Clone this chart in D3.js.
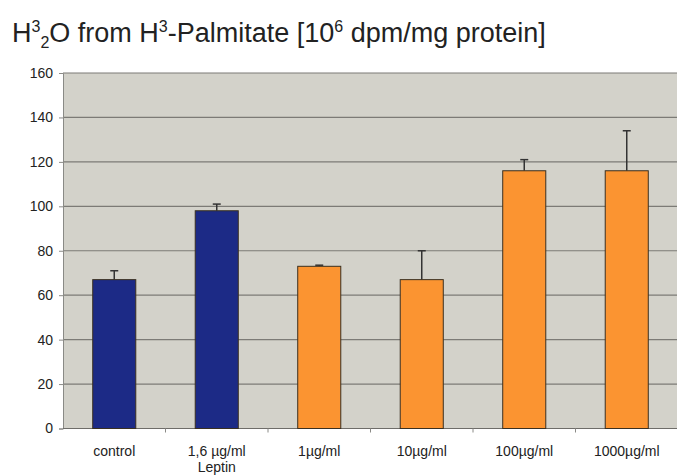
<!DOCTYPE html>
<html>
<head>
<meta charset="utf-8">
<script src="https://cdn.jsdelivr.net/npm/d3@7"></script>
<style>
  body { margin: 0; background: #fff; }
  text { font-family: "Liberation Sans", Arial, sans-serif; fill: #222; }
</style>
</head>
<body>
<div id="chart"></div>
<script>
  var categories = ['control', '1,6 µg/ml|Leptin', '1µg/ml', '10µg/ml', '100µg/ml', '1000µg/ml'];
  var values = [67, 98, 73, 67, 116, 116];
  var errors = [4, 3, 0.5, 13, 5, 18];
  var groups = ['blue', 'blue', 'orange', 'orange', 'orange', 'orange'];
  var yTicks = [0, 20, 40, 60, 80, 100, 120, 140, 160];

  (function () {
    'use strict';

    var width = 677, height = 476;
    var m = {left: 63, right: 678, top: 73, bottom: 428.5};

    var svg = d3.select('#chart').append('svg')
      .attr('width', width)
      .attr('height', height);

    var x = d3.scaleBand()
      .domain(d3.range(categories.length))
      .range([m.left, m.right])
      .paddingInner(0.58)
      .paddingOuter(0.29);

    var y = d3.scaleLinear().domain([0, 160]).range([m.bottom, m.top]);

    var colors = {blue: '#1c2a86', orange: '#fb9431'};

    // plot background
    svg.append('rect')
      .attr('x', m.left).attr('y', m.top)
      .attr('width', m.right - m.left).attr('height', m.bottom - m.top)
      .attr('fill', '#d3d2ca');

    // gridlines
    svg.append('g')
      .selectAll('line')
      .data(yTicks.slice(1))
      .enter()
      .append('line')
      .attr('x1', m.left).attr('x2', m.right)
      .attr('y1', function (d) { return y(d); })
      .attr('y2', function (d) { return y(d); })
      .attr('stroke', '#7c7b76')
      .attr('stroke-width', 1.2);

    // y axis
    var yAxis = svg.append('g')
      .attr('transform', 'translate(' + m.left + ',0)')
      .call(d3.axisLeft(y).tickValues(yTicks).tickSize(4).tickPadding(6));
    yAxis.select('.domain').attr('stroke', '#8a8a86');
    yAxis.selectAll('.tick line').attr('stroke', '#8a8a86');
    yAxis.selectAll('.tick text')
      .style('font-size', '14px')
      .attr('fill', '#1a1a1a');

    // x axis baseline
    svg.append('line')
      .attr('x1', m.left).attr('x2', m.right)
      .attr('y1', m.bottom).attr('y2', m.bottom)
      .attr('stroke', '#6e6d69')
      .attr('stroke-width', 1.2);

    // x tick marks between categories
    var step = x.step();
    svg.append('g')
      .selectAll('line')
      .data(d3.range(categories.length))
      .enter()
      .append('line')
      .attr('x1', function (d) { return x(d) + x.bandwidth() / 2 + step / 2; })
      .attr('x2', function (d) { return x(d) + x.bandwidth() / 2 + step / 2; })
      .attr('y1', m.bottom).attr('y2', m.bottom + 4)
      .attr('stroke', '#8a8a86');

    // error bars
    var err = svg.append('g')
      .selectAll('g')
      .data(values)
      .enter()
      .append('g');

    err.append('line')
      .attr('x1', function (d, i) { return x(i) + x.bandwidth() / 2; })
      .attr('x2', function (d, i) { return x(i) + x.bandwidth() / 2; })
      .attr('y1', function (d) { return y(d); })
      .attr('y2', function (d, i) { return y(d + errors[i]); })
      .attr('stroke', '#333')
      .attr('stroke-width', 1.5);

    err.append('line')
      .attr('x1', function (d, i) { return x(i) + x.bandwidth() / 2 - 4; })
      .attr('x2', function (d, i) { return x(i) + x.bandwidth() / 2 + 4; })
      .attr('y1', function (d, i) { return y(d + errors[i]); })
      .attr('y2', function (d, i) { return y(d + errors[i]); })
      .attr('stroke', '#333')
      .attr('stroke-width', 1.5);

    // bars
    svg.append('g')
      .selectAll('rect')
      .data(values)
      .enter()
      .append('rect')
      .attr('x', function (d, i) { return x(i); })
      .attr('y', function (d) { return y(d); })
      .attr('width', x.bandwidth())
      .attr('height', function (d) { return m.bottom - y(d); })
      .attr('fill', function (d, i) { return colors[groups[i]]; })
      .attr('stroke', '#3a3020')
      .attr('stroke-width', 1);

    // category labels
    var labels = svg.append('g')
      .selectAll('text')
      .data(categories)
      .enter()
      .append('text')
      .attr('text-anchor', 'middle')
      .attr('transform', function (d, i) {
        return 'translate(' + [x(i) + x.bandwidth() / 2, m.bottom + 27] + ')';
      })
      .style('font-size', '14px');

    labels.selectAll('tspan')
      .data(function (d) { return d.split('|'); })
      .enter()
      .append('tspan')
      .attr('x', 0)
      .attr('dy', function (d, i) { return i ? 16 : 0; })
      .text(function (d) { return d; });

    // title
    var title = svg.append('text')
      .attr('x', 12)
      .attr('y', 42)
      .style('font-size', '27px')
      .attr('fill', '#111');
    title.append('tspan').text('H');
    title.append('tspan').attr('dy', -10).style('font-size', '16px').text('3');
    title.append('tspan').attr('dy', 16).style('font-size', '16px').text('2');
    title.append('tspan').attr('dy', -6).text('O from H');
    title.append('tspan').attr('dy', -10).style('font-size', '16px').text('3');
    title.append('tspan').attr('dy', 10).text('-Palmitate [10');
    title.append('tspan').attr('dy', -10).style('font-size', '16px').text('6');
    title.append('tspan').attr('dy', 10).text(' dpm/mg protein]');
  }());
</script>
</body>
</html>
